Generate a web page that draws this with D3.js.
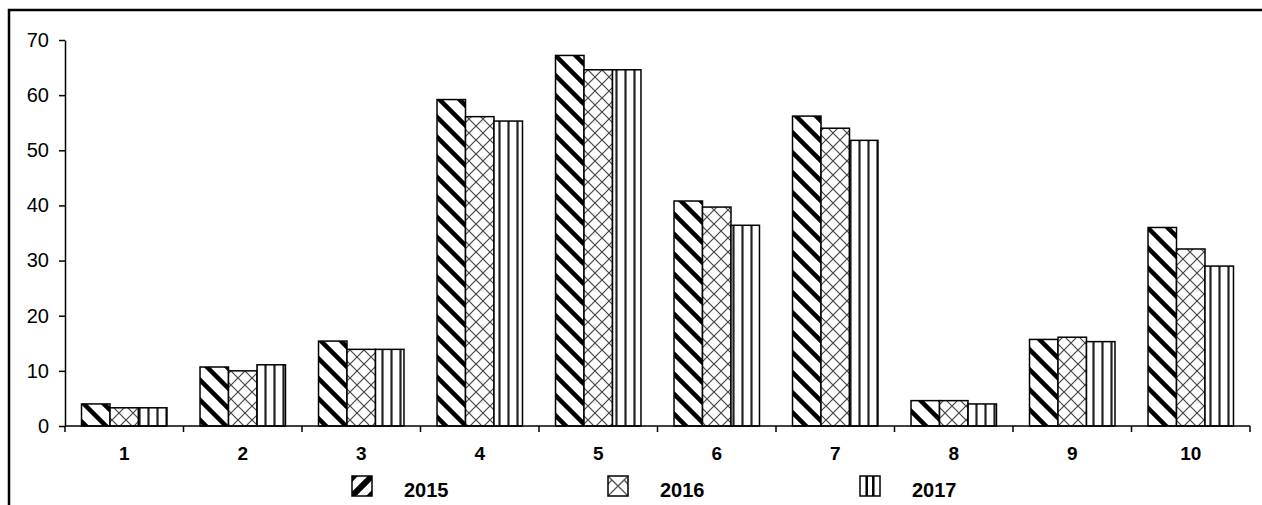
<!DOCTYPE html>
<html>
<head>
<meta charset="utf-8">
<script src="https://cdn.jsdelivr.net/npm/d3@7"></script>
<style>
  html, body { margin: 0; padding: 0; background: #fff; }
  svg { display: block; }
  text { font-family: "Liberation Sans", Arial, sans-serif; fill: #000; }
</style>
</head>
<body>
<svg id="chart" width="1262" height="505"></svg>
<script>
const categories = ["1", "2", "3", "4", "5", "6", "7", "8", "9", "10"];
const seriesNames = ["2015", "2016", "2017"];
const values2015 = [4.0, 10.7, 15.4, 59.2, 67.2, 40.8, 56.2, 4.6, 15.7, 36.0];
const values2016 = [3.3, 10.0, 13.9, 56.1, 64.6, 39.7, 54.0, 4.6, 16.1, 32.1];
const values2017 = [3.3, 11.1, 13.9, 55.3, 64.6, 36.4, 51.8, 4.0, 15.3, 29.0];
const yTicks = [0, 10, 20, 30, 40, 50, 60, 70];

const seriesValues = [values2015, values2016, values2017];
const svg = d3.select("#chart");

// frame
svg.append("rect").attr("x", 9).attr("y", 10).attr("width", 1400).attr("height", 700)
  .attr("fill", "none").attr("stroke", "#000").attr("stroke-width", 2.5);

// patterns
const defs = svg.append("defs");
function diag(id, size, sw) {
  const p = defs.append("pattern").attr("id", id).attr("patternUnits", "userSpaceOnUse")
    .attr("width", size).attr("height", size);
  p.append("rect").attr("width", size).attr("height", size).attr("fill", "#fff");
  p.append("path")
    .attr("d", `M${-size/2},${-size/2} L${size*1.5},${size*1.5} M${-size/2},${size/2} L${size/2},${size*1.5} M${size/2},${-size/2} L${size*1.5},${size/2}`)
    .attr("stroke", "#000").attr("stroke-width", sw);
}
function cross(id, size, sw, color) {
  const p = defs.append("pattern").attr("id", id).attr("patternUnits", "userSpaceOnUse")
    .attr("width", size).attr("height", size);
  p.append("rect").attr("width", size).attr("height", size).attr("fill", "#fff");
  p.append("path").attr("d", `M0,0 L${size},${size} M${size},0 L0,${size}`)
    .attr("stroke", color).attr("stroke-width", sw);
}
function vert(id, size, sw, color) {
  const p = defs.append("pattern").attr("id", id).attr("patternUnits", "userSpaceOnUse")
    .attr("width", size).attr("height", 10);
  p.append("rect").attr("width", size).attr("height", 10).attr("fill", "#fff");
  p.append("line").attr("x1", size/2).attr("x2", size/2).attr("y1", 0).attr("y2", 10)
    .attr("stroke", color).attr("stroke-width", sw);
}
diag("p2015", 20, 4.5);
cross("p2016", 14, 1.2, "#444");
vert("p2017", 9, 2.2, "#222");
const patterns = ["url(#p2015)", "url(#p2016)", "url(#p2017)"];

// legend patterns
(function () {
  const p = defs.append("pattern").attr("id", "l2015").attr("patternUnits", "objectBoundingBox")
    .attr("width", 1).attr("height", 1);
  p.append("rect").attr("width", 20).attr("height", 20).attr("fill", "#fff");
  p.append("path").attr("d", "M0,20 L20,0").attr("stroke", "#000").attr("stroke-width", 6);
  p.append("path").attr("d", "M0,0 L6,0 L0,6 Z M20,20 L14,20 L20,14 Z").attr("fill", "#000");
  const q = defs.append("pattern").attr("id", "l2016").attr("patternUnits", "objectBoundingBox")
    .attr("width", 1).attr("height", 1);
  q.append("rect").attr("width", 20).attr("height", 20).attr("fill", "#fff");
  q.append("path").attr("d", "M0,0 L10,10 L20,0 M0,20 L10,10 L20,20 M4,4 L0,8 M16,4 L20,8")
    .attr("stroke", "#555").attr("stroke-width", 1.3).attr("fill", "none");
  const r = defs.append("pattern").attr("id", "l2017").attr("patternUnits", "objectBoundingBox")
    .attr("width", 1).attr("height", 1);
  r.append("rect").attr("width", 20).attr("height", 20).attr("fill", "#fff");
  r.append("path").attr("d", "M6.7,0 V20 M13.3,0 V20").attr("stroke", "#000").attr("stroke-width", 2.5);
})();
const legendPatterns = ["url(#l2015)", "url(#l2016)", "url(#l2017)"];

// scales
const x0 = d3.scaleBand().domain(categories).range([65, 1250]).paddingInner(0).paddingOuter(0);
const x1 = d3.scaleBand().domain(seriesNames).range([0, x0.bandwidth()]).paddingInner(0).paddingOuter(0.58);
const y = d3.scaleLinear().domain([0, 70]).range([426, 40]);

// bars
seriesNames.forEach((s, si) => {
  svg.append("g").selectAll("rect").data(seriesValues[si]).join("rect")
    .attr("x", (d, i) => x0(categories[i]) + x1(s))
    .attr("y", d => y(d))
    .attr("width", x1.bandwidth())
    .attr("height", d => y(0) - y(d))
    .attr("fill", patterns[si])
    .attr("stroke", "#000").attr("stroke-width", 1.5);
});

// y axis
const yAxis = svg.append("g").attr("transform", "translate(65,0)")
  .call(d3.axisLeft(y).tickValues(yTicks).tickSize(6).tickSizeOuter(0).tickPadding(10));
yAxis.select(".domain").attr("stroke", "#000").attr("stroke-width", 1.5);
yAxis.selectAll(".tick line").attr("stroke", "#000").attr("stroke-width", 1.5);
yAxis.selectAll("text").style("font-size", "20px").style("font-family", "Liberation Sans, Arial, sans-serif");

// x axis
const xAxisG = svg.append("g").attr("transform", "translate(0,426)");
xAxisG.append("line").attr("x1", 65).attr("x2", 1250).attr("stroke", "#000").attr("stroke-width", 1.5);
const boundaries = categories.map(c => x0(c)).concat([x0(categories[categories.length - 1]) + x0.bandwidth()]);
xAxisG.selectAll("line.tk").data(boundaries).join("line").attr("class", "tk")
  .attr("x1", d => d).attr("x2", d => d).attr("y1", 0).attr("y2", 6)
  .attr("stroke", "#000").attr("stroke-width", 1.5);
xAxisG.selectAll("text").data(categories).join("text")
  .attr("x", d => x0(d) + x0.bandwidth() / 2).attr("y", 34)
  .attr("text-anchor", "middle").style("font-size", "19px").style("font-weight", "bold")
  .text(d => d);

// legend
const legendX = [352, 608, 860];
const legend = svg.append("g");
seriesNames.forEach((s, i) => {
  legend.append("rect").attr("x", legendX[i]).attr("y", 476).attr("width", 20).attr("height", 20)
    .attr("fill", legendPatterns[i]).attr("stroke", "#000").attr("stroke-width", 1.5);
  legend.append("text").attr("x", legendX[i] + 52).attr("y", 497)
    .style("font-size", "20px").style("font-weight", "bold").text(s);
});
</script>
</body>
</html>
